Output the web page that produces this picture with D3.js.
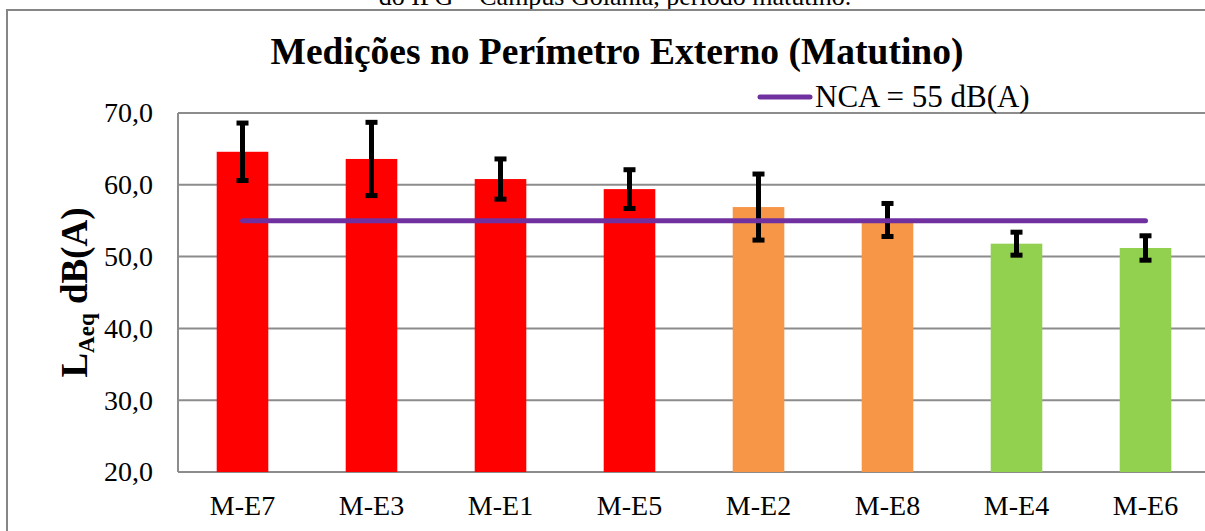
<!DOCTYPE html>
<html lang="pt">
<head>
<meta charset="utf-8">
<title>Medições no Perímetro Externo (Matutino)</title>
<script src="https://cdn.jsdelivr.net/npm/d3@7"></script>
<style>
  body { margin: 0; background: #fff; }
  svg { display: block; font-family: "Liberation Serif", "Times New Roman", serif; }
</style>
</head>
<body>
<svg id="chart"></svg>
<script>
// data
const categories = ['M-E7', 'M-E3', 'M-E1', 'M-E5', 'M-E2', 'M-E8', 'M-E4', 'M-E6'];
const means = [64.6, 63.6, 60.8, 59.4, 56.9, 55.1, 51.8, 51.2];
const errors = [4.0, 5.1, 2.8, 2.7, 4.6, 2.3, 1.6, 1.7];
const levels = ['acima', 'acima', 'acima', 'acima', 'limite', 'limite', 'abaixo', 'abaixo'];
const nca = 55;
const yTicks = [20, 30, 40, 50, 60, 70];

const W = 1205, H = 531;
const margin = {top: 113, left: 178, right: -5, bottom: 59};

const svg = d3.select('#chart').attr('width', W).attr('height', H);

const x = d3.scaleBand()
  .domain(categories)
  .range([margin.left, W - margin.right])
  .paddingInner(0.6)
  .paddingOuter(0.3);

const y = d3.scaleLinear()
  .domain([20, 70])
  .range([H - margin.bottom, margin.top]);

const color = d3.scaleOrdinal()
  .domain(['acima', 'limite', 'abaixo'])
  .range(['#ff0000', '#f79646', '#92d050']);

const data = categories.map((c, i) => ({cat: c, v: means[i], e: errors[i], lvl: levels[i]}));

// caption cut at the top of the page (as in the original)
svg.append('text')
  .attr('x', 615).attr('y', 5)
  .attr('text-anchor', 'middle')
  .style('font-size', '26px')
  .text('do IFG – Campus Goiânia, período matutino.');

// chart frame
svg.append('rect')
  .attr('x', 7).attr('y', 10)
  .attr('width', 1210).attr('height', 540)
  .attr('fill', 'none')
  .attr('stroke', '#868686')
  .attr('stroke-width', 2);

// gridlines
svg.append('g')
  .selectAll('line')
  .data(yTicks)
  .join('line')
  .attr('x1', margin.left).attr('x2', W)
  .attr('y1', d => y(d)).attr('y2', d => y(d))
  .attr('stroke', '#8c8c8c')
  .attr('stroke-width', 2);

svg.append('line')
  .attr('x1', margin.left).attr('x2', margin.left)
  .attr('y1', y(70)).attr('y2', y(20))
  .attr('stroke', '#8c8c8c')
  .attr('stroke-width', 2);

// axes labels
const yAxis = svg.append('g')
  .attr('transform', `translate(${margin.left},0)`)
  .call(d3.axisLeft(y).tickValues(yTicks).tickSize(0).tickPadding(25)
    .tickFormat(d => d3.format('.1f')(d).replace('.', ',')));
yAxis.select('.domain').remove();
yAxis.selectAll('text')
  .attr('fill', '#000')
  .style('font-size', '28px')
  .style('font-family', '"Liberation Serif", "Times New Roman", serif');

const xAxis = svg.append('g')
  .attr('transform', `translate(0,${y(20)})`)
  .call(d3.axisBottom(x).tickSize(0).tickPadding(23));
xAxis.select('.domain').remove();
xAxis.selectAll('text')
  .attr('fill', '#000')
  .style('font-size', '28px')
  .style('font-family', '"Liberation Serif", "Times New Roman", serif');

// bars
svg.append('g')
  .selectAll('rect')
  .data(data)
  .join('rect')
  .attr('x', d => x(d.cat))
  .attr('width', x.bandwidth())
  .attr('y', d => y(d.v))
  .attr('height', d => y(20) - y(d.v))
  .attr('fill', d => color(d.lvl));

// error bars
const eb = svg.append('g').attr('stroke', '#000').attr('stroke-width', 5);
const cx = d => x(d.cat) + x.bandwidth() / 2;
eb.selectAll('.stem')
  .data(data)
  .join('line')
  .attr('class', 'stem')
  .attr('x1', cx).attr('x2', cx)
  .attr('y1', d => y(d.v + d.e)).attr('y2', d => y(d.v - d.e));
eb.selectAll('.capTop')
  .data(data)
  .join('line')
  .attr('class', 'capTop')
  .attr('x1', d => cx(d) - 6).attr('x2', d => cx(d) + 6)
  .attr('y1', d => y(d.v + d.e)).attr('y2', d => y(d.v + d.e));
eb.selectAll('.capBot')
  .data(data)
  .join('line')
  .attr('class', 'capBot')
  .attr('x1', d => cx(d) - 6).attr('x2', d => cx(d) + 6)
  .attr('y1', d => y(d.v - d.e)).attr('y2', d => y(d.v - d.e));

// NCA line
const line = d3.line().x(d => cx(d)).y(() => y(nca));
svg.append('path')
  .datum([data[0], data[data.length - 1]])
  .attr('d', line)
  .attr('fill', 'none')
  .attr('stroke', '#7030a0')
  .attr('stroke-width', 5)
  .attr('stroke-linecap', 'round');

// title
svg.append('text')
  .attr('x', 617).attr('y', 64)
  .attr('text-anchor', 'middle')
  .style('font-size', '37.5px')
  .style('font-weight', 'bold')
  .text('Medições no Perímetro Externo (Matutino)');

// legend
svg.append('line')
  .attr('x1', 760).attr('x2', 810)
  .attr('y1', 97).attr('y2', 97)
  .attr('stroke', '#7030a0')
  .attr('stroke-width', 5)
  .attr('stroke-linecap', 'round');
svg.append('text')
  .attr('x', 815).attr('y', 107)
  .style('font-size', '31px')
  .text('NCA = 55 dB(A)');

// y axis title
const yt = svg.append('text')
  .attr('transform', `translate(87,${(y(20) + y(70)) / 2}) rotate(-90)`)
  .attr('text-anchor', 'middle')
  .style('font-size', '37px')
  .style('font-weight', 'bold');
yt.append('tspan').text('L');
yt.append('tspan').attr('dy', 7).style('font-size', '23px').text('Aeq');
yt.append('tspan').attr('dy', -7).text(' dB(A)');
</script>
</body>
</html>
